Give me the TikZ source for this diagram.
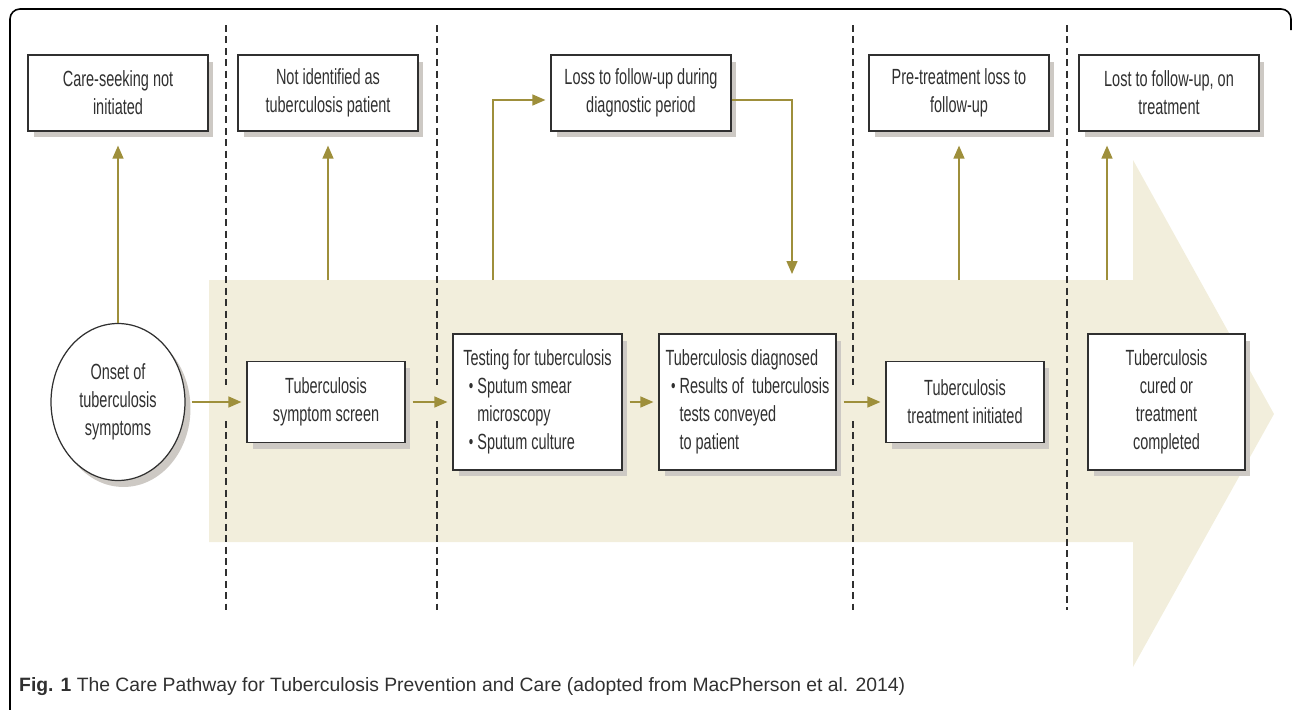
\documentclass[tikz,border=0pt]{standalone}
\usepackage{fontspec}
\setmainfont{Liberation Sans}[FakeStretch=0.66]
\newfontfamily\capfont{Liberation Sans}
\usetikzlibrary{arrows.meta,shapes.geometric,shadows}

\definecolor{flowol}{HTML}{9E8F3B}
\definecolor{bandfill}{HTML}{F2EEDC}
\definecolor{shadegray}{HTML}{CDC9C4}
\definecolor{inkgray}{HTML}{303030}

\newcommand{\tbbul}{\hspace*{0.11cm}\makebox[0.17cm][l]{\raisebox{0.06em}{\fontsize{11}{11}\selectfont\textbullet}}}
\newcommand{\tbind}{\hspace*{0.28cm}}

\begin{document}
\begin{tikzpicture}[
    x=0.02cm, y=-0.02cm,
    font=\fontsize{12.5}{16}\selectfont,
    text=inkgray,
    box/.style={draw=inkgray, line width=0.7pt, fill=white, rectangle, align=center, inner sep=0pt,
      drop shadow={shadow xshift=0.11cm, shadow yshift=-0.13cm, fill=shadegray, opacity=1}},
    lossbox/.style={box, minimum width=3.6cm, minimum height=1.52cm},
    flow/.style={draw=flowol, line width=0.8pt, shorten >=0.1cm, -{Triangle[length=0.26cm, width=0.22cm]}},
    sep/.style={draw=inkgray, line width=0.6pt, dash pattern=on 4pt off 2.5pt}
  ]
  \useasboundingbox (0,0) rectangle (1292,710);

  % frame
  \draw[line width=0.9pt, rounded corners=0.2cm] (10,712) -- (10,9) -- (1291,9) -- (1291,30);

  % big arrow behind the pathway
  \fill[bandfill] (209,280) coordinate (bandtop) -- (1133,280) -- (1133,160) -- (1274,414)
    -- (1133,667) -- (1133,542) -- (209,542) -- cycle;

  % stage separators
  \foreach \sx in {226,437,853} {
    \draw[sep] (\sx,25) -- (\sx,385);
    \draw[sep] (\sx,421) -- (\sx,610);
  }
  \draw[sep] (1067,25) -- (1067,610);

  % losses
  \node[lossbox] (careno) at (118,93) {Care-seeking not\\initiated};
  \node[lossbox] (notid) at (328,93) {Not identified as\\tuberculosis patient};
  \node[lossbox] (lossdiag) at (641,93) {Loss to follow-up during\\diagnostic period};
  \node[lossbox] (pretreat) at (959,93) {Pre-treatment loss to\\follow-up};
  \node[lossbox] (losttreat) at (1169,93) {Lost to follow-up, on\\treatment};

  % pathway
  \node[box, ellipse, minimum width=2.68cm, minimum height=3.14cm] (onset) at (118,402) {Onset of\\tuberculosis\\symptoms};
  \node[box, minimum width=3.16cm, minimum height=1.62cm] (screen) at (326,402) {Tuberculosis\\symptom screen};
  \node[box, minimum width=3.38cm, minimum height=2.72cm, align=left] (testing) at (537.5,402)
    {Testing for tuberculosis\\\tbbul Sputum smear\\\tbind microscopy\\\tbbul Sputum culture};
  \node[box, minimum width=3.54cm, minimum height=2.72cm, align=left] (diag) at (747.5,402)
    {Tuberculosis diagnosed\\\tbbul Results of\ \ tuberculosis\\\tbind tests conveyed\\\tbind to patient};
  \node[box, minimum width=3.16cm, minimum height=1.62cm] (treat) at (965,402) {Tuberculosis\\treatment initiated};
  \node[box, minimum width=3.14cm, minimum height=2.72cm] (cured) at (1166.5,402) {Tuberculosis\\cured or\\treatment\\completed};

  \coordinate (dxout) at (493,280);
  \coordinate (dxback) at (792,274);
  \coordinate (lostout) at (1107,280);

  \draw[flow, shorten <=0.12cm] (onset) -- (screen);
  \draw[flow, shorten <=0.14cm] (screen) -- (testing);
  \draw[flow, shorten <=0.14cm] (testing) -- (diag);
  \draw[flow, shorten <=0.14cm] (diag) -- (treat);

  \draw[flow, shorten >=0.28cm] (onset) -- (careno);
  \draw[flow, shorten >=0.28cm] (notid.south |- bandtop) -- (notid.south);
  \draw[flow] (dxout) |- ([yshift=-0.14cm]lossdiag.west);
  \draw[flow, shorten >=0pt] ([yshift=-0.14cm]lossdiag.east) -| (dxback);
  \draw[flow, shorten >=0.28cm] (pretreat.south |- bandtop) -- (pretreat.south);
  \draw[flow, shorten >=0.28cm] (lostout) -- (lostout |- losttreat.south);

  \node[anchor=base west, font=\capfont\fontsize{11}{13}\selectfont] (caption) at (13,691)
    {\textbf{Fig. 1} The Care Pathway for Tuberculosis Prevention and Care (adopted from MacPherson et al. 2014)};
\end{tikzpicture}
\end{document}
